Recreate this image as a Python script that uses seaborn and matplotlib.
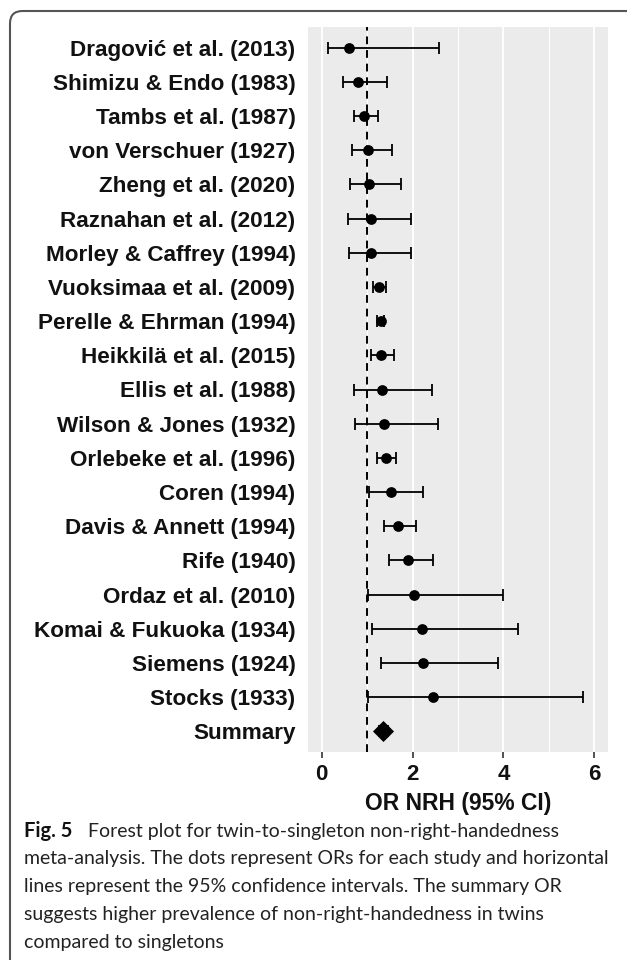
import pandas as pd
import numpy as np
import matplotlib.pyplot as plt
import seaborn as sns
from matplotlib.patches import FancyBboxPatch

studies = ["Dragović et al. (2013)", "Shimizu & Endo (1983)", "Tambs et al. (1987)",
           "von Verschuer (1927)", "Zheng et al. (2020)", "Raznahan et al. (2012)",
           "Morley & Caffrey (1994)", "Vuoksimaa et al. (2009)", "Perelle & Ehrman (1994)",
           "Heikkilä et al. (2015)", "Ellis et al. (1988)", "Wilson & Jones (1932)",
           "Orlebeke et al. (1996)", "Coren (1994)", "Davis & Annett (1994)", "Rife (1940)",
           "Ordaz et al. (2010)", "Komai & Fukuoka (1934)", "Siemens (1924)",
           "Stocks (1933)", "Summary"]
odds = [0.60, 0.80, 0.93, 1.01, 1.04, 1.08, 1.09, 1.27, 1.30, 1.30, 1.32, 1.37,
        1.41, 1.53, 1.69, 1.90, 2.03, 2.20, 2.23, 2.44, 1.36]
ci_low = [0.15, 0.46, 0.71, 0.67, 0.63, 0.59, 0.61, 1.14, 1.22, 1.08, 0.72, 0.73,
          1.22, 1.05, 1.38, 1.49, 1.02, 1.11, 1.30, 1.02, 1.26]
ci_high = [2.59, 1.43, 1.25, 1.55, 1.74, 1.96, 1.96, 1.42, 1.38, 1.60, 2.42, 2.55,
           1.64, 2.24, 2.07, 2.45, 3.99, 4.33, 3.87, 5.74, 1.47]

df = pd.DataFrame({"study": studies, "or_est": odds, "lo": ci_low, "hi": ci_high})
df["pos"] = np.arange(len(df))
studies_df = df[df.study != "Summary"]
summary_df = df[df.study == "Summary"]

sns.set_theme(style="darkgrid")
plt.rcParams["font.family"] = ["Liberation Sans", "DejaVu Sans"]

fig = plt.figure(figsize=(6.27, 9.6), dpi=100)
ax = fig.add_axes([308 / 627, 1 - 752 / 960, 300 / 627, 725 / 960])
ax.set_facecolor("#EBEBEB")

ax.errorbar(df.or_est, df.pos, xerr=[df.or_est - df.lo, df.hi - df.or_est], fmt="none",
            ecolor="black", elinewidth=1.3, capsize=4, capthick=1.3, zorder=3)
sns.scatterplot(data=studies_df, x="or_est", y="pos", color="black", s=60,
                edgecolor="black", linewidth=0, ax=ax, zorder=4)
sns.scatterplot(data=summary_df, x="or_est", y="pos", color="black", marker="D", s=115,
                edgecolor="black", linewidth=0, ax=ax, zorder=4)
ax.axvline(1, color="black", linestyle=(0, (4, 3)), linewidth=1.4, zorder=2)

ax.set_xlim(-0.3, 6.3)
ax.set_ylim(len(df) - 0.4, -0.6)
ax.set_xticks([0, 2, 4, 6])
ax.set_xticks([1, 3, 5], minor=True)
ax.set_yticks(df.pos)
ax.set_yticklabels(df.study)
ax.grid(axis="y", visible=False)
ax.grid(axis="x", which="major", color="white", linewidth=1.3)
ax.grid(axis="x", which="minor", color="white", linewidth=0.8)
for s in ax.spines.values():
    s.set_visible(False)

ax.tick_params(axis="y", length=0, pad=9, labelsize=16.2, labelcolor="#111111")
ax.tick_params(axis="x", which="major", length=4, width=1.2, color="#333333", pad=5,
               labelsize=16, labelcolor="#111111", bottom=True)
ax.tick_params(axis="x", which="minor", length=0)
for lab in ax.get_yticklabels() + ax.get_xticklabels():
    lab.set_fontweight("bold")
ax.set_xlabel("OR NRH (95% CI)", fontsize=16.5, fontweight="bold", color="#111111", labelpad=5)
ax.set_ylabel("")

frame = FancyBboxPatch((10 / 627, -0.05), 1.2, 1 - 11 / 960 + 0.05,
                       boxstyle="round,pad=0,rounding_size=0.02",
                       transform=fig.transFigure, fill=False, edgecolor="#555555",
                       linewidth=1.5, mutation_aspect=627 / 960)
fig.patches.append(frame)

caption = ["Forest plot for twin-to-singleton non-right-handedness",
           "meta-analysis. The dots represent ORs for each study and horizontal",
           "lines represent the 95% confidence intervals. The summary OR",
           "suggests higher prevalence of non-right-handedness in twins",
           "compared to singletons"]
cap_font = ["Lato", "DejaVu Sans"]
y0 = 1 - 831 / 960
dy = 27.8 / 960
fig.text(24 / 627, y0, "Fig. 5", family=cap_font, fontsize=14.5, fontweight="bold",
         va="center", ha="left", color="#111111")
fig.text(88 / 627, y0, caption[0], family=cap_font, fontsize=14, va="center", ha="left",
         color="#222222")
for i, line in enumerate(caption[1:], start=1):
    fig.text(24 / 627, y0 - i * dy, line, family=cap_font, fontsize=14, va="center",
             ha="left", color="#222222")

fig.savefig("out.png", dpi=100)
